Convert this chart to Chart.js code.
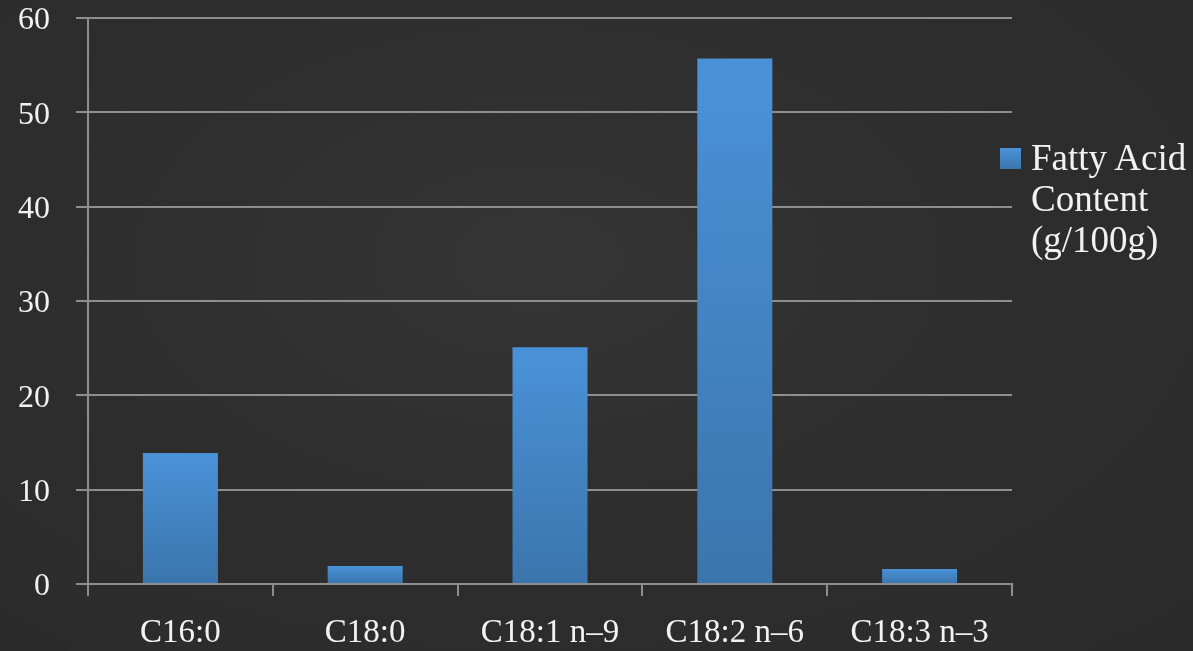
<!DOCTYPE html>
<html>
<head>
<meta charset="utf-8">
<title>Fatty Acid Content</title>
<script src="https://cdn.jsdelivr.net/npm/chart.js@4.4.1/dist/chart.umd.min.js"></script>
<style>
  html, body { margin: 0; padding: 0; }
  body {
    width: 1193px; height: 651px; overflow: hidden;
    background-color: #2c2c2c;
    background-image:
      radial-gradient(ellipse 75% 80% at 45% 40%, rgba(60,60,60,0.55) 0%, rgba(48,48,48,0.25) 55%, rgba(20,20,20,0.0) 100%),
      radial-gradient(ellipse 120% 120% at 50% 45%, rgba(0,0,0,0) 55%, rgba(0,0,0,0.4) 100%);
    position: relative;
  }
  #wrap { position: absolute; left: 0; top: 0; width: 1193px; height: 651px; }
  #legend {
    position: absolute; left: 1000px; top: 134px;
    font-family: "Liberation Serif", serif; font-size: 37px; line-height: 41px;
    color: #f2f2f2;
  }
  #legend .swatch {
    position: absolute; left: 0; top: 14px; width: 21px; height: 21px;
    background: linear-gradient(#4b93da, #3b76ae);
  }
  #legend .text { position: absolute; left: 31px; top: 3px; width: 170px; white-space: nowrap; }
</style>
</head>
<body>
<div id="wrap"><canvas id="chart"></canvas></div>
<div id="legend"><div class="swatch"></div><div class="text" id="legendText"></div></div>
<script>
const categories = ["C16:0", "C18:0", "C18:1 n\u20139", "C18:2 n\u20136", "C18:3 n\u20133"];
const fattyAcidContent = [13.9, 1.9, 25.1, 55.7, 1.6];
const seriesLabel = ["Fatty Acid", "Content", "(g/100g)"];
const yTicks = [0, 10, 20, 30, 40, 50, 60];

const FONT = "Liberation Serif";
const GRID = "#8e8e8e";

// Each bar gets its own top-to-bottom shade.
function barGradient(ctx) {
  const chart = ctx.chart;
  if (!chart.chartArea || ctx.type !== "data") return "#4690d4";
  const y = chart.scales.y;
  const top = y.getPixelForValue(ctx.raw);
  const bottom = y.getPixelForValue(0);
  const g = chart.ctx.createLinearGradient(0, top, 0, bottom);
  g.addColorStop(0, "#4a92d8");
  g.addColorStop(1, "#3b75ad");
  return g;
}

document.getElementById("legendText").innerHTML = seriesLabel.join("<br>");

new Chart(document.getElementById("chart"), {
  type: "bar",
  data: {
    labels: categories,
    datasets: [{
      label: seriesLabel.join(" "),
      data: fattyAcidContent,
      backgroundColor: barGradient,
      borderWidth: 0,
      barPercentage: 0.406,
      categoryPercentage: 1.0
    }]
  },
  options: {
    responsive: true,
    maintainAspectRatio: false,
    animation: false,
    layout: { padding: { left: 0, right: 181, top: 18, bottom: 0 } },
    plugins: { legend: { display: false }, tooltip: { enabled: false } },
    scales: {
      x: {
        offset: true,
        grid: { display: true, drawOnChartArea: false, drawTicks: true, tickLength: 12, color: GRID, lineWidth: 2, offset: true },
        border: { display: true, color: GRID, width: 2 },
        ticks: { color: "#f2f2f2", font: { family: FONT, size: 33 }, padding: 18, maxRotation: 0, autoSkip: false },
        afterFit: (s) => { s.height = 67; s.paddingLeft = 0; s.paddingRight = 0; }
      },
      y: {
        min: 0, max: 60,
        afterBuildTicks: (s) => { s.ticks = yTicks.map(v => ({ value: v })); },
        grid: { color: GRID, lineWidth: 2, tickLength: 12, drawTicks: true },
        border: { display: true, color: GRID, width: 2 },
        ticks: { color: "#f2f2f2", font: { family: FONT, size: 32 }, padding: 26, labelOffset: 3 },
        afterFit: (s) => { s.width = 88; s.paddingTop = 0; s.paddingBottom = 0; }
      }
    }
  }
});
</script>
</body>
</html>
